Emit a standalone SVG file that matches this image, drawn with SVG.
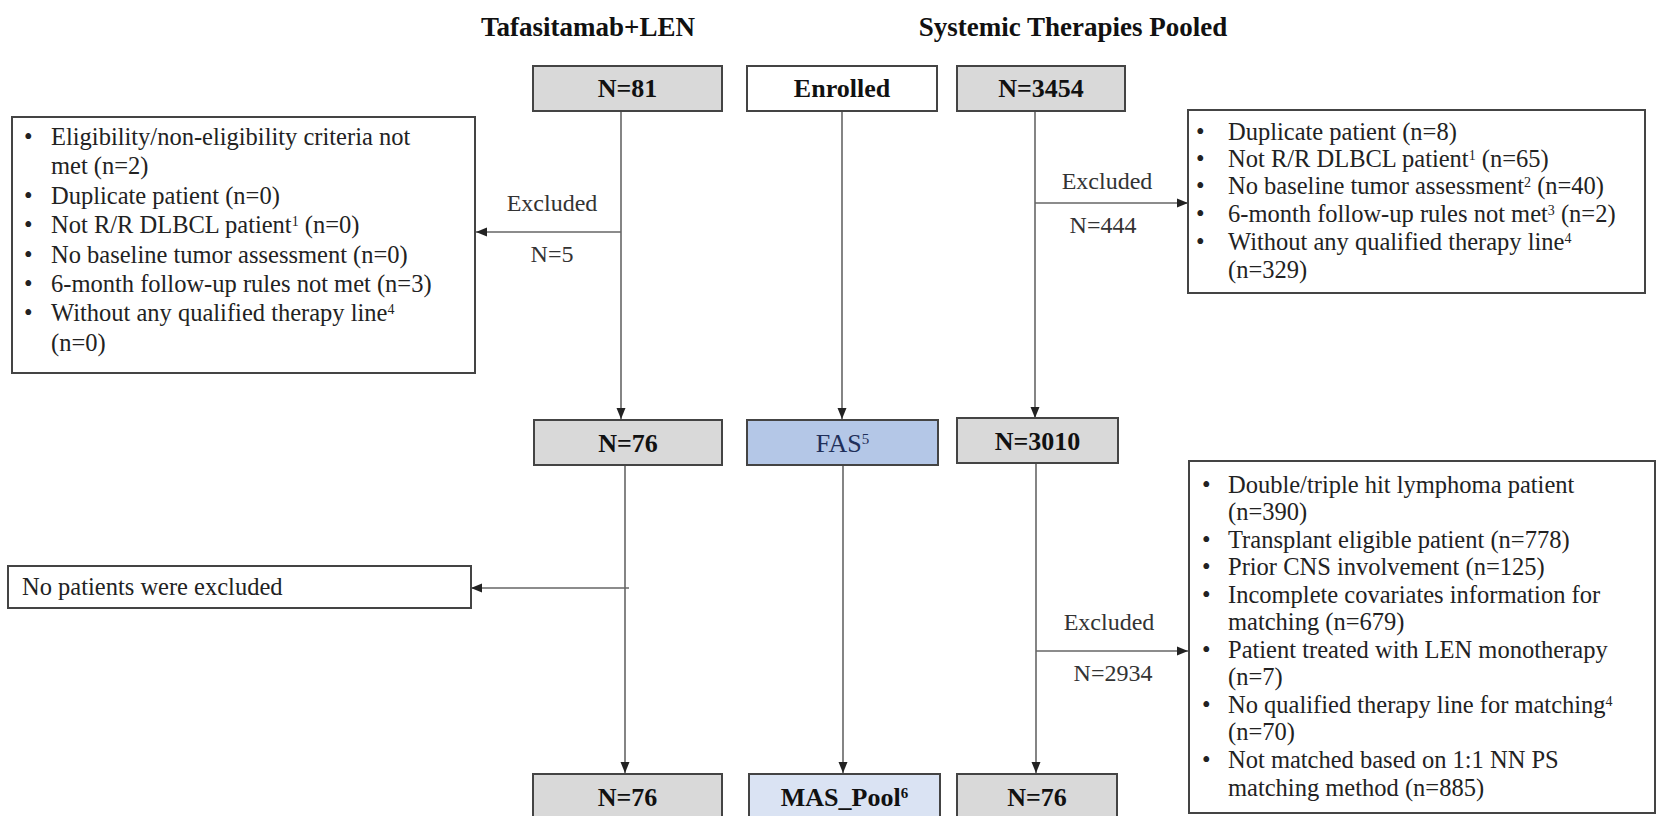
<svg xmlns="http://www.w3.org/2000/svg" width="1658" height="816" viewBox="0 0 1658 816">
<defs>
<marker id="arr" markerUnits="userSpaceOnUse" markerWidth="12" markerHeight="12" viewBox="0 0 12 12" refX="11" refY="6" orient="auto">
<path d="M0,1.5 L11,6 L0,10.5 Z" fill="#222"/>
</marker>
<style>
text{font-family:"Liberation Serif","Times New Roman",serif;fill:#222}
.title{font-size:27px;font-weight:bold;text-anchor:middle;fill:#111}
.nb{font-size:26px;font-weight:bold;text-anchor:middle;fill:#111}
.body{font-size:24.5px}
.lbl{font-size:24px;text-anchor:middle;fill:#333}
.box{stroke:#444;stroke-width:2}
.gray{fill:#d9d9d9}
.white{fill:#fff}
.conn{stroke:#666;stroke-width:1.6;fill:none}
.sup{font-size:14px}
</style>
</defs>
<rect width="1658" height="816" fill="#fff"/>

<g id="titles">
<text class="title" x="588" y="36">Tafasitamab+LEN</text>
<text class="title" x="1073" y="36">Systemic Therapies Pooled</text>
</g>

<g id="connectors">
<line class="conn" x1="621" y1="111" x2="621" y2="419" marker-end="url(#arr)"/>
<line class="conn" x1="842" y1="111" x2="842" y2="419" marker-end="url(#arr)"/>
<line class="conn" x1="1035" y1="111" x2="1035" y2="418" marker-end="url(#arr)"/>
<line class="conn" x1="621" y1="232" x2="476" y2="232" marker-end="url(#arr)"/>
<line class="conn" x1="1035" y1="203" x2="1188" y2="203" marker-end="url(#arr)"/>
<line class="conn" x1="625" y1="465" x2="625" y2="773" marker-end="url(#arr)"/>
<line class="conn" x1="843" y1="465" x2="843" y2="773" marker-end="url(#arr)"/>
<line class="conn" x1="1036" y1="463" x2="1036" y2="773" marker-end="url(#arr)"/>
<line class="conn" x1="629" y1="588" x2="471" y2="588" marker-end="url(#arr)"/>
<line class="conn" x1="1036" y1="651" x2="1188" y2="651" marker-end="url(#arr)"/>
<text class="lbl" x="552" y="211">Excluded</text>
<text class="lbl" x="552" y="262">N=5</text>
<text class="lbl" x="1107" y="189">Excluded</text>
<text class="lbl" x="1103" y="233">N=444</text>
<text class="lbl" x="1109" y="630">Excluded</text>
<text class="lbl" x="1113" y="681">N=2934</text>
</g>

<g id="n81">
<rect class="box gray" x="533" y="66" width="189" height="45"/>
<text class="nb" x="627.5" y="97">N=81</text>
</g>
<g id="enrolled">
<rect class="box white" x="747" y="66" width="190" height="45"/>
<text class="nb" x="842" y="97">Enrolled</text>
</g>
<g id="n3454">
<rect class="box gray" x="957" y="66" width="168" height="45"/>
<text class="nb" x="1041" y="97">N=3454</text>
</g>

<g id="excl-left">
<rect class="box white" x="12" y="117" width="463" height="256"/>
<text class="body" x="24" y="145">•</text><text class="body" x="51" y="145">Eligibility/non-eligibility criteria not</text>
<text class="body" x="51" y="174">met (n=2)</text>
<text class="body" x="24" y="204">•</text><text class="body" x="51" y="204">Duplicate patient (n=0)</text>
<text class="body" x="24" y="233">•</text><text class="body" x="51" y="233">Not R/R DLBCL patient<tspan class="sup" baseline-shift="super">1</tspan> (n=0)</text>
<text class="body" x="24" y="263">•</text><text class="body" x="51" y="263">No baseline tumor assessment (n=0)</text>
<text class="body" x="24" y="292">•</text><text class="body" x="51" y="292">6-month follow-up rules not met (n=3)</text>
<text class="body" x="24" y="321">•</text><text class="body" x="51" y="321">Without any qualified therapy line<tspan class="sup" baseline-shift="super">4</tspan></text>
<text class="body" x="51" y="351">(n=0)</text>
</g>

<g id="excl-right-top">
<rect class="box white" x="1188" y="110" width="457" height="183"/>
<text class="body" x="1196" y="140">•</text><text class="body" x="1228" y="140">Duplicate patient (n=8)</text>
<text class="body" x="1196" y="167">•</text><text class="body" x="1228" y="167">Not R/R DLBCL patient<tspan class="sup" baseline-shift="super">1</tspan> (n=65)</text>
<text class="body" x="1196" y="194">•</text><text class="body" x="1228" y="194">No baseline tumor assessment<tspan class="sup" baseline-shift="super">2</tspan> (n=40)</text>
<text class="body" x="1196" y="222">•</text><text class="body" x="1228" y="222">6-month follow-up rules not met<tspan class="sup" baseline-shift="super">3</tspan> (n=2)</text>
<text class="body" x="1196" y="250">•</text><text class="body" x="1228" y="250">Without any qualified therapy line<tspan class="sup" baseline-shift="super">4</tspan></text>
<text class="body" x="1228" y="278">(n=329)</text>
</g>

<g id="n76-mid">
<rect class="box gray" x="534" y="420" width="188" height="45"/>
<text class="nb" x="628" y="452">N=76</text>
</g>
<g id="fas">
<rect class="box" x="747" y="420" width="191" height="45" fill="#b4c7e7"/>
<text x="842.5" y="452" text-anchor="middle" style="font-size:26px;fill:#1f2f5a">FAS<tspan class="sup" baseline-shift="super" style="font-size:15px;fill:#1f2f5a">5</tspan></text>
</g>
<g id="n3010">
<rect class="box gray" x="957" y="418" width="161" height="45"/>
<text class="nb" x="1037.5" y="450">N=3010</text>
</g>

<g id="excl-mid-left">
<rect class="box white" x="8" y="566" width="463" height="42"/>
<text class="body" x="22" y="595">No patients were excluded</text>
</g>

<g id="excl-right-bottom">
<rect class="box white" x="1189" y="461" width="466" height="352"/>
<text class="body" x="1202" y="493">•</text><text class="body" x="1228" y="493">Double/triple hit lymphoma patient</text>
<text class="body" x="1228" y="520">(n=390)</text>
<text class="body" x="1202" y="548">•</text><text class="body" x="1228" y="548">Transplant eligible patient (n=778)</text>
<text class="body" x="1202" y="575">•</text><text class="body" x="1228" y="575">Prior CNS involvement (n=125)</text>
<text class="body" x="1202" y="603">•</text><text class="body" x="1228" y="603">Incomplete covariates information for</text>
<text class="body" x="1228" y="630">matching (n=679)</text>
<text class="body" x="1202" y="658">•</text><text class="body" x="1228" y="658">Patient treated with LEN monotherapy</text>
<text class="body" x="1228" y="685">(n=7)</text>
<text class="body" x="1202" y="713">•</text><text class="body" x="1228" y="713">No qualified therapy line for matching<tspan class="sup" baseline-shift="super">4</tspan></text>
<text class="body" x="1228" y="740">(n=70)</text>
<text class="body" x="1202" y="768">•</text><text class="body" x="1228" y="768">Not matched based on 1:1 NN PS</text>
<text class="body" x="1228" y="796">matching method (n=885)</text>
</g>

<g id="n76-bot-left">
<rect class="box gray" x="533" y="774" width="189" height="60"/>
<text class="nb" x="627.5" y="806">N=76</text>
</g>
<g id="maspool">
<rect class="box" x="749" y="774" width="191" height="60" fill="#dae3f3"/>
<text class="nb" x="844.5" y="806">MAS_Pool<tspan class="sup" baseline-shift="super" style="font-size:15px">6</tspan></text>
</g>
<g id="n76-bot-right">
<rect class="box gray" x="957" y="774" width="160" height="60"/>
<text class="nb" x="1037" y="806">N=76</text>
</g>
</svg>
